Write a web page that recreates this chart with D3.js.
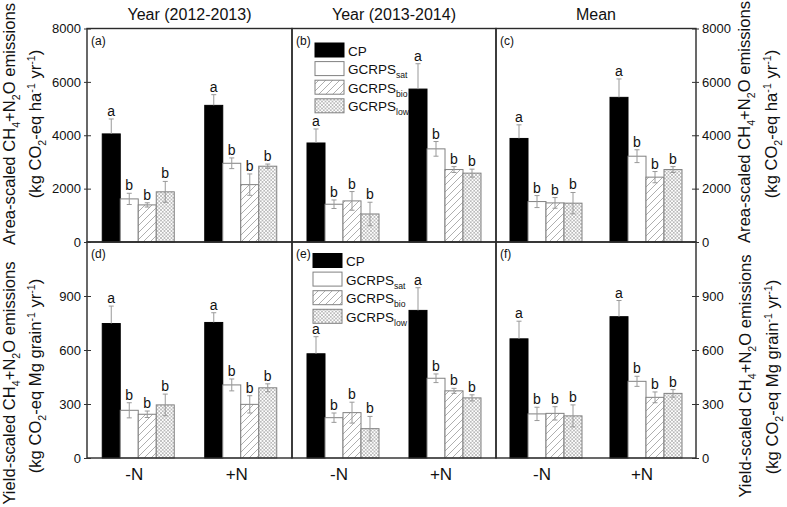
<!DOCTYPE html>
<html><head><meta charset="utf-8">
<script src="https://cdn.jsdelivr.net/npm/d3@7"></script>
<style>
body{margin:0;background:#fff;}
svg{font-family:Arial,"Liberation Sans",sans-serif;}
</style></head>
<body><svg id="c" width="787" height="507"></svg>
<script>
// ---------------- data ----------------
const categories = ["-N", "+N"];
const series = ["CP", "GCRPS_sat", "GCRPS_bio", "GCRPS_low"];
const columnTitles = ["Year (2012-2013)", "Year (2013-2014)", "Mean"];
const panelLabels = ["(a)", "(b)", "(c)", "(d)", "(e)", "(f)"];
const areaTicks = [0, 2000, 4000, 6000, 8000];
const yieldTicks = [0, 300, 600, 900];
const sigLetters = ["a", "b", "b", "b"];

// area-scaled (kg CO2-eq ha-1 yr-1): [ -N series ], [ +N series ]
const areaYear1 = [[4050, 1615, 1390, 1880], [5120, 2950, 2150, 2840]];
const areaYear1Err = [[560, 210, 80, 390], [400, 200, 400, 80]];
const areaYear2 = [[3710, 1415, 1540, 1050], [5730, 3490, 2715, 2580]];
const areaYear2Err = [[525, 160, 350, 440], [950, 275, 110, 150]];
const areaMean = [[3880, 1515, 1465, 1455], [5420, 3215, 2430, 2715]];
const areaMeanErr = [[510, 225, 200, 400], [690, 240, 210, 110]];

// yield-scaled (kg CO2-eq Mg grain-1 yr-1)
const yieldYear1 = [[747, 265, 243, 295], [753, 406, 298, 390]];
const yieldYear1Err = [[97, 42, 18, 60], [54, 33, 48, 22]];
const yieldYear2 = [[579, 224, 252, 163], [820, 443, 373, 334]];
const yieldYear2Err = [[95, 26, 58, 68], [126, 24, 14, 17]];
const yieldMean = [[662, 245, 248, 234], [785, 426, 337, 359]];
const yieldMeanErr = [[98, 37, 37, 61], [90, 28, 30, 21]];

// ---------------- layout ----------------
const svg = d3.select("#c");
const panelX = [87, 292, 496, 696];
const rowTop = [28.5, 242], rowBottom = [242, 458];
const yArea = d3.scaleLinear().domain([0, 8000]).range([rowBottom[0], rowTop[0]]);
const yYield = d3.scaleLinear().domain([0, 1200]).range([rowBottom[1], rowTop[1]]);
const rowScales = [yArea, yYield];
const rowTicks = [areaTicks, yieldTicks];

const defs = svg.append("defs");
const hatch = defs.append("pattern").attr("id", "hatch").attr("patternUnits", "userSpaceOnUse")
  .attr("width", 7).attr("height", 7);
hatch.append("rect").attr("width", 7).attr("height", 7).attr("fill", "#fff");
hatch.append("path").attr("d", "M0,7L7,0M-1,1L1,-1M6,8L8,6").attr("stroke", "#9a9a9a").attr("stroke-width", 0.8);
const cross = defs.append("pattern").attr("id", "cross").attr("patternUnits", "userSpaceOnUse")
  .attr("width", 3.5).attr("height", 3.5);
cross.append("rect").attr("width", 3.5).attr("height", 3.5).attr("fill", "#fff");
cross.append("path").attr("d", "M0,0L3.5,3.5M3.5,0L0,3.5").attr("stroke", "#9a9a9a").attr("stroke-width", 0.6);

const fills = ["#000", "#fff", "url(#hatch)", "url(#cross)"];
const strokes = ["#000", "#808080", "#808080", "#808080"];

// rich text helper: parts = [[text, 'n'|'sub'|'sup'], ...]
function rich(textSel, parts, fs) {
  let shift = 0;
  parts.forEach(([t, k]) => {
    let target = k === "sub" ? fs * 0.3 : k === "sup" ? -fs * 0.38 : 0;
    textSel.append("tspan").attr("dy", target - shift)
      .attr("font-size", k === "n" ? fs : fs * 0.64).text(t);
    shift = target;
  });
}

const panels = [
  [areaYear1, areaYear1Err], [areaYear2, areaYear2Err], [areaMean, areaMeanErr],
  [yieldYear1, yieldYear1Err], [yieldYear2, yieldYear2Err], [yieldMean, yieldMeanErr]
];

panels.forEach(([vals, errs], i) => {
  const row = Math.floor(i / 3), col = i % 3;
  const x0 = panelX[col], x1 = panelX[col + 1];
  const y = rowScales[row];
  const xCat = d3.scalePoint().domain(categories).range([x0, x1]).padding(0.5);
  const xSer = d3.scaleBand().domain(series).range([-36, 36]).padding(0);
  const g = svg.append("g");

  categories.forEach((cat, ci) => {
    series.forEach((s, si) => {
      const v = vals[ci][si], e = errs[ci][si];
      const bx = xCat(cat) + xSer(s);
      g.append("rect").attr("x", bx).attr("y", y(v))
        .attr("width", xSer.bandwidth()).attr("height", y(0) - y(v))
        .attr("fill", fills[si]).attr("stroke", strokes[si]).attr("stroke-width", 1);
      const cx = bx + xSer.bandwidth() / 2;
      const lo = si === 0 ? v : v - e;
      g.append("line").attr("x1", cx).attr("x2", cx).attr("y1", y(lo)).attr("y2", y(v + e))
        .attr("stroke", "#999").attr("stroke-width", 1);
      g.append("line").attr("x1", cx - 2.5).attr("x2", cx + 2.5).attr("y1", y(v + e)).attr("y2", y(v + e))
        .attr("stroke", "#999").attr("stroke-width", 1);
      if (si !== 0) g.append("line").attr("x1", cx - 2.5).attr("x2", cx + 2.5).attr("y1", y(lo)).attr("y2", y(lo))
        .attr("stroke", "#999").attr("stroke-width", 1);
      g.append("text").attr("x", cx).attr("y", y(v + e) - 3).attr("text-anchor", "middle")
        .attr("font-size", 14).attr("fill", "#111").text(sigLetters[si]);
    });
  });

  // frame
  svg.append("rect").attr("x", x0).attr("y", rowTop[row]).attr("width", x1 - x0)
    .attr("height", rowBottom[row] - rowTop[row]).attr("fill", "none")
    .attr("stroke", "#2a2a2a").attr("stroke-width", 1.4);

  svg.append("text").attr("x", x0 + 4).attr("y", rowTop[row] + 16)
    .attr("font-size", 12).attr("fill", "#111").text(panelLabels[i]);

  if (row === 1) {
    categories.forEach(cat => {
      svg.append("text").attr("x", xCat(cat) - 4).attr("y", 480).attr("text-anchor", "middle")
        .attr("font-size", 17).attr("fill", "#111").text(cat);
    });
  }
});

// column titles
columnTitles.forEach((t, c) => {
  svg.append("text").attr("x", (panelX[c] + panelX[c + 1]) / 2).attr("y", 20)
    .attr("text-anchor", "middle").attr("font-size", 16).attr("fill", "#111").text(t);
});

// y axes (left and right)
[0, 1].forEach(row => {
  const y = rowScales[row];
  const left = d3.axisLeft(y).tickValues(rowTicks[row]).tickSize(3).tickPadding(3).tickFormat(d3.format("d"));
  const right = d3.axisRight(y).tickValues(rowTicks[row]).tickSize(3).tickPadding(3).tickFormat(d3.format("d"));
  const gl = svg.append("g").attr("transform", `translate(${panelX[0]},0)`).call(left);
  const gr = svg.append("g").attr("transform", `translate(${panelX[3]},0)`).call(right);
  [gl, gr].forEach((ga, k) => {
    ga.select(".domain").remove();
    ga.selectAll(".tick line").attr("stroke", "#333").attr("x1", k === 0 ? 4 : -4);
    ga.selectAll(".tick text").attr("font-size", 13).attr("fill", "#111")
      .attr("font-family", "Arial, 'Liberation Sans', sans-serif");
  });
});

// axis titles
const areaL1 = [["Area-scaled CH", "n"], ["4", "sub"], ["+N", "n"], ["2", "sub"], ["O emissions", "n"]];
const areaL2 = [["(kg CO", "n"], ["2", "sub"], ["-eq ha", "n"], ["-1", "sup"], [" yr", "n"], ["-1", "sup"], [")", "n"]];
const yieldL1 = [["Yield-scaled CH", "n"], ["4", "sub"], ["+N", "n"], ["2", "sub"], ["O emissions", "n"]];
const yieldL2 = [["(kg CO", "n"], ["2", "sub"], ["-eq Mg grain", "n"], ["-1", "sup"], [" yr", "n"], ["-1", "sup"], [")", "n"]];
const titleSpec = [
  [areaL1, 15, 124, 750, 122], [areaL2, 41, 124, 777, 124],
  [yieldL1, 15, 383, 751, 376], [yieldL2, 41, 376, 778, 377]
];
titleSpec.forEach(([parts, xl, yl, xr, yr]) => {
  [[xl, yl], [xr, yr]].forEach(([tx, ty]) => {
    const t = svg.append("text").attr("transform", `translate(${tx},${ty}) rotate(-90)`)
      .attr("text-anchor", "middle").attr("font-size", 16.6).attr("fill", "#111");
    rich(t, parts, 16.6);
  });
});

// legends in panels (b) and (e)
const legendNames = [[["CP", "n"]], [["GCRPS", "n"], ["sat", "sub"]], [["GCRPS", "n"], ["bio", "sub"]], [["GCRPS", "n"], ["low", "sub"]]];
[[315, 43], [313, 253.5]].forEach(([lx, ly]) => {
  series.forEach((s, si) => {
    const yy = ly + si * 18.6;
    svg.append("rect").attr("x", lx).attr("y", yy).attr("width", 29).attr("height", 14)
      .attr("fill", fills[si]).attr("stroke", strokes[si]).attr("stroke-width", 1);
    const t = svg.append("text").attr("x", lx + 33).attr("y", yy + 12.5)
      .attr("font-size", 13.5).attr("fill", "#111");
    rich(t, legendNames[si], 13.5);
  });
});
</script></body></html>
